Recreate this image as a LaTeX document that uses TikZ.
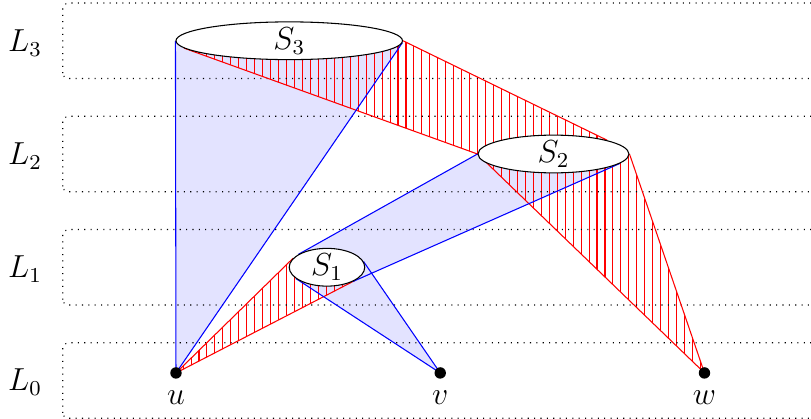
\documentclass[12pt,tikz,border=0pt]{standalone}
\usetikzlibrary{shapes.geometric,backgrounds}
\newcommand\myhatch[1]{%
  \begin{scope}
    \clip #1;
    \foreach \k in {0,...,102}
      \draw[hatchline] ({-2.331+\k*0.10544},-0.7) -- ++(0,5.8);
  \end{scope}}
\begin{document}
\begin{tikzpicture}[
  layerbox/.style={draw, dotted, rounded corners=2pt},
  setnode/.style={ellipse, draw, fill=white, inner sep=0pt, minimum height=0.5cm},
  vertex/.style={circle, fill=black, inner sep=0pt, minimum size=4.3pt},
  cone/.style={fill=blue!11},
  coneline/.style={draw=blue},
  hatchline/.style={draw=red},
  layerlabel/.style={anchor=base},
]
\useasboundingbox (-2.331,-0.609) rectangle (8.411,4.940);

% layer labels
\node[layerlabel] (L0) at (-2,-0.239) {$L_0$};
\node[layerlabel] (L1) at (-2,1.261) {$L_1$};
\node[layerlabel] (L2) at (-2,2.761) {$L_2$};
\node[layerlabel] (L3) at (-2,4.261) {$L_3$};

% vertices
\node[vertex, label={below:$u$}] (u) at (0,0) {};
\node[vertex, label={below:$v$}] (v) at (3.5,0) {};
\node[vertex, label={below:$w$}] (w) at (7,0) {};

% sets
\node[setnode, minimum width=1cm] (S1) at (2,1.4) {$S_1$};
\node[setnode, minimum width=2cm] (S2) at (5,2.9) {$S_2$};
\node[setnode, minimum width=3cm] (S3) at (1.5,4.4) {$S_3$};

\begin{pgfonlayer}{background}
  % blue cones
  \fill[cone] (u.center) -- (S3.west) -- (S3.-1.1) -- cycle;
  \fill[cone] (S1.156) -- (S2.west) -- (S2.-8.05) -- (S1.-29.5) -- cycle;
  \fill[cone] (v.center) -- (S1.9.8) -- (S1.200.8) -- cycle;
  % red hatched cones
  \myhatch{(u.center) -- (S1.165.6) -- (S1.-25.7) -- cycle}
  \myhatch{(S3.184.4) -- (S3.east) -- (S2.north east) -- (S2.west) -- cycle}
  \myhatch{(S2.west) -- (S2.east) -- (w.center) -- cycle}
  % layer boxes
  \draw[layerbox] (-1.5,-0.6) rectangle (8.6,0.4);
  \draw[layerbox] (-1.5,0.9) rectangle (8.6,1.9);
  \draw[layerbox] (-1.5,2.4) rectangle (8.6,3.4);
  \draw[layerbox] (-1.5,3.9) rectangle (8.6,4.9);
  % red lines
  \draw[hatchline] (u.center) -- (S1.165.6);
  \draw[hatchline] (u.center) -- (S1.-25.7);
  \draw[hatchline] (S3.184.4) -- (S2.west);
  \draw[hatchline] (S3.east) -- (S2.north east);
  \draw[hatchline] (S2.west) -- (w.center);
  \draw[hatchline] (S2.east) -- (w.center);
  % blue lines
  \draw[coneline] (u.center) -- (S3.west);
  \draw[coneline] (u.center) -- (S3.-1.1);
  \draw[coneline] (S1.156) -- (S2.west);
  \draw[coneline] (S1.-29.5) -- (S2.-8.05);
  \draw[coneline] (v.center) -- (S1.9.8);
  \draw[coneline] (v.center) -- (S1.200.8);
\end{pgfonlayer}
\end{tikzpicture}
\end{document}
